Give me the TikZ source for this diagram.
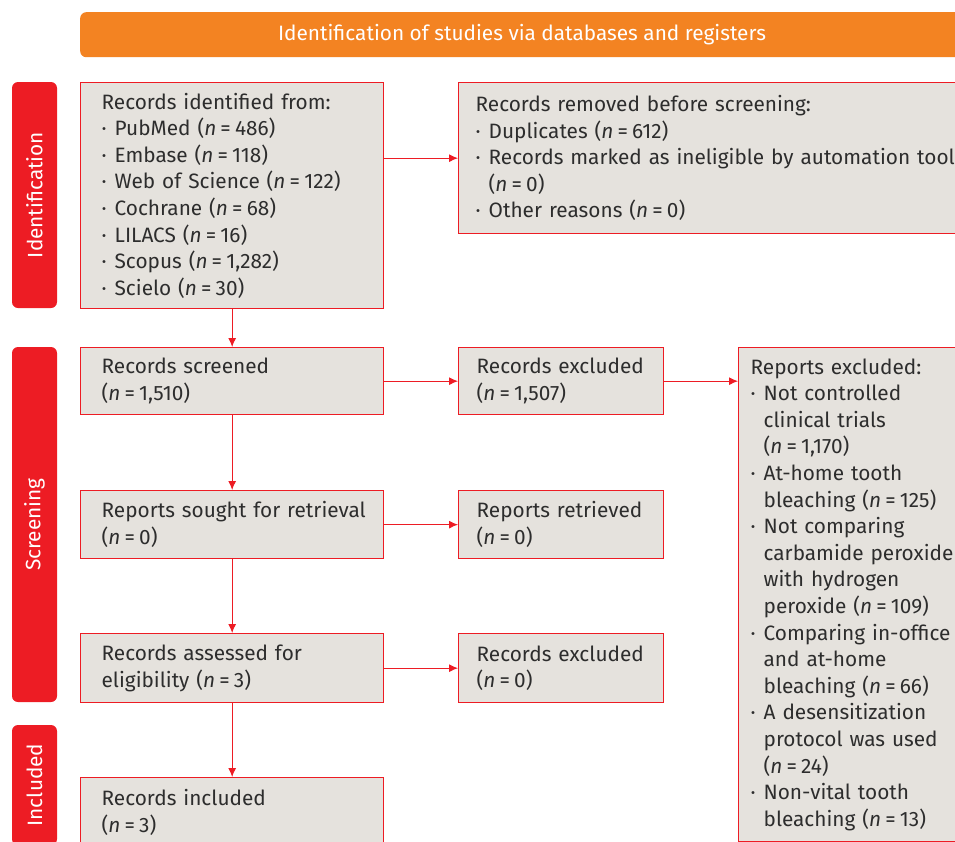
\documentclass[tikz,border=0pt]{standalone}
\usepackage{fontspec}
\setmainfont{Fira Sans}
\usepackage{tikz}
\usetikzlibrary{positioning}
\usetikzlibrary{arrows.meta}
\usepackage{xcolor}
\definecolor{prismared}{RGB}{237,28,36}
\definecolor{prismaorange}{RGB}{243,131,34}
\definecolor{boxgray}{RGB}{229,226,221}
\definecolor{boxtext}{RGB}{45,45,45}
\newcommand{\nn}[1]{(\textit{n}\hspace{0.2em}=\hspace{0.2em}#1)}
\newcommand{\bul}{\makebox[13pt][l]{·}}
\newcommand{\ind}{\hspace*{13pt}}

\begin{document}
\begin{tikzpicture}[x=1pt, y=-1pt,
    flowbox/.style={rectangle, draw=prismared, fill=boxgray, line width=1.3pt, anchor=north west, align=left, text=boxtext, font=\fontsize{20.8}{26.6}\selectfont},
    phase/.style={rectangle, rounded corners=6pt, fill=prismared, text=white, rotate=90, minimum height=45pt, inner sep=0pt, font=\fontsize{20.8}{24}\selectfont},
    flow/.style={-{Latex[length=9pt,width=8pt]}, draw=prismared, line width=1pt}
]
    \useasboundingbox (0,0) rectangle (955,841);
    \clip (0,0) rectangle (955,841);

    % Header
    \node[rectangle, rounded corners=6pt, fill=prismaorange, anchor=north west, minimum width=890pt, minimum height=45pt, inner sep=0pt] (head) at (80,12) {};
    \node[text=white, font=\fontsize{20.8}{24}\selectfont] (headtxt) at (522,34.5) {Identification of studies via databases and registers};

    % Phase bars
    \node[phase, minimum width=226pt] (phident) at (34.5,195) {Identification};
    \node[phase, minimum width=355pt] (phscreen) at (34.5,524.5) {Screening};
    \node[phase, minimum width=120pt] (phincl) at (34.5,785) {Included};

    % Identification
    \node[flowbox, inner xsep=21pt, text width=261pt, minimum height=226pt] (ident) at (80,82) {Records identified from:\\
        \bul PubMed \nn{486}\\
        \bul Embase \nn{118}\\
        \bul Web of Science \nn{122}\\
        \bul Cochrane \nn{68}\\
        \bul LILACS \nn{16}\\
        \bul Scopus \nn{1,282}\\
        \bul Scielo \nn{30}};
    \node[flowbox, inner xsep=17pt, text width=490pt, minimum height=151pt] (removed) at (458,82) {Records removed before screening:\\
        \bul Duplicates \nn{612}\\
        \bul Records marked as ineligible by automation tools\\
        \ind\nn{0}\\
        \bul Other reasons \nn{0}};

    % Screening
    \node[flowbox, inner xsep=21pt, text width=261pt, minimum height=67pt] (screened) at (80,347) {Records screened\\ \nn{1,510}};
    \node[flowbox, inner xsep=18pt, text width=169pt, minimum height=67pt] (excl1) at (458,347) {Records excluded\\ \nn{1,507}};
    \node[flowbox, inner xsep=12pt, text width=230pt, minimum height=494pt] (repexcl) at (738,347) {Reports excluded:\\
        \bul Not controlled\\
        \ind clinical trials\\
        \ind\nn{1,170}\\
        \bul At-home tooth\\
        \ind bleaching \nn{125}\\
        \bul Not comparing\\
        \ind carbamide peroxide\\
        \ind with hydrogen\\
        \ind peroxide \nn{109}\\
        \bul Comparing in-office\\
        \ind and at-home\\
        \ind bleaching \nn{66}\\
        \bul A desensitization\\
        \ind protocol was used\\
        \ind\nn{24}\\
        \bul Non-vital tooth\\
        \ind bleaching \nn{13}};

    \node[flowbox, inner xsep=21pt, text width=261pt, minimum height=68pt] (sought) at (80,490) {\mbox{Reports sought for retrieval}\\ \nn{0}};
    \node[flowbox, inner xsep=18pt, text width=169pt, minimum height=68pt] (retrieved) at (458,490) {Reports retrieved\\ \nn{0}};

    \node[flowbox, inner xsep=21pt, text width=261pt, minimum height=69pt] (assessed) at (80,633) {Records assessed for\\ eligibility \nn{3}};
    \node[flowbox, inner xsep=18pt, text width=169pt, minimum height=69pt] (excl2) at (458,633) {Records excluded\\ \nn{0}};

    % Included
    \node[flowbox, inner xsep=21pt, text width=261pt, minimum height=69pt] (included) at (80,777) {Records included\\ \nn{3}};

    % Arrows
    \draw[flow] (ident.east |- removed.west) -- (removed.west);
    \draw[flow] (ident) -- (screened);
    \draw[flow] (screened) -- (excl1);
    \draw[flow] (excl1.east) -- (excl1.east -| repexcl.west);
    \draw[flow] (screened) -- (sought);
    \draw[flow] (sought) -- (retrieved);
    \draw[flow] (sought) -- (assessed);
    \draw[flow] (assessed) -- (excl2);
    \draw[flow] (assessed) -- (included);
\end{tikzpicture}
\end{document}
